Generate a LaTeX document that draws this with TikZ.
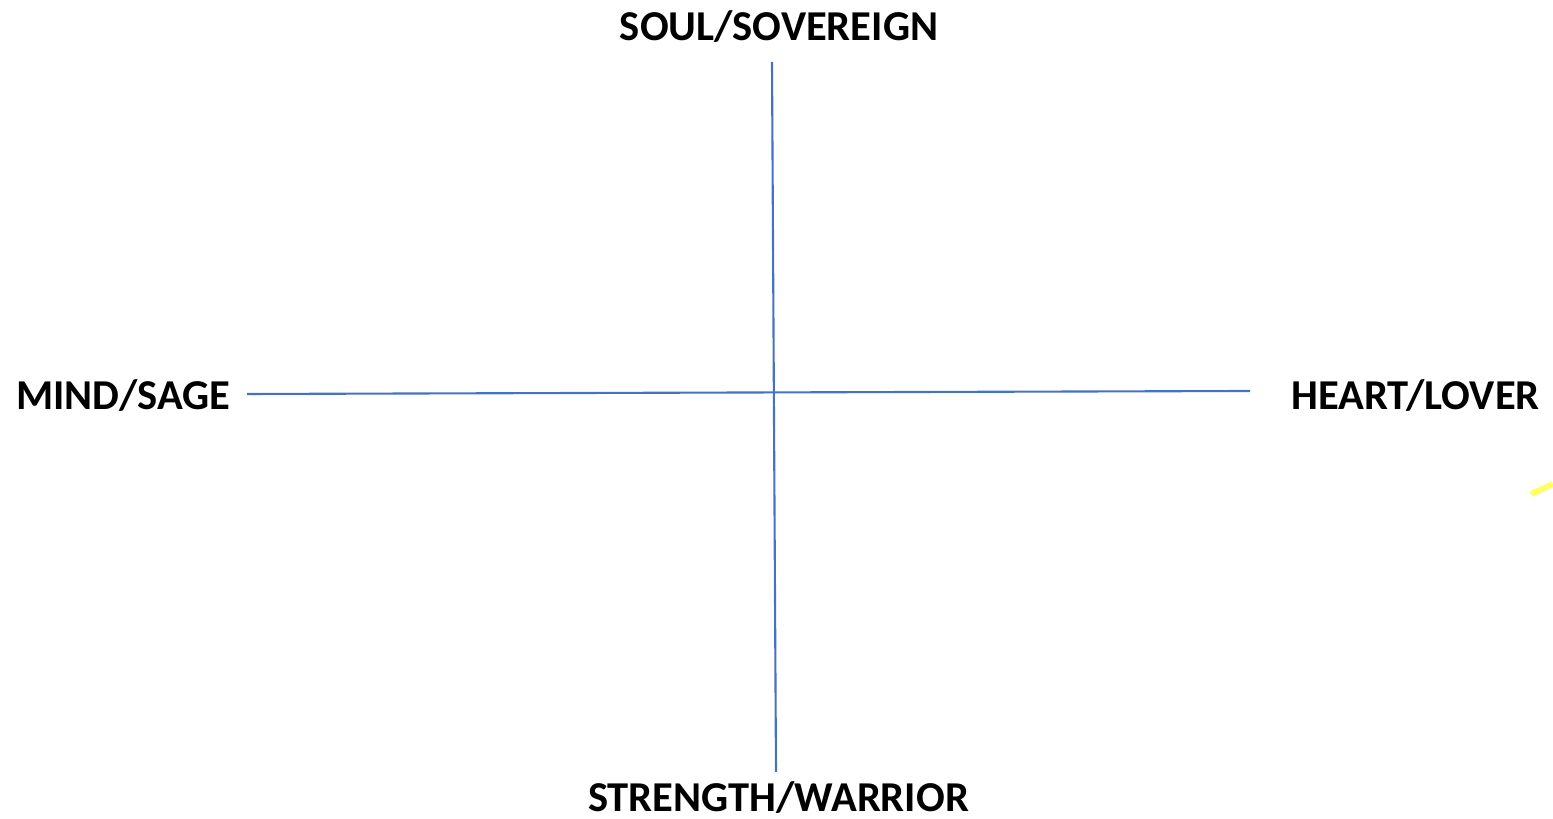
\documentclass[tikz,border=0pt]{standalone}
\usepackage{fontspec}
\setmainfont{Carlito}
\usetikzlibrary{positioning}

\definecolor{axisblue}{RGB}{68,114,196}
\definecolor{markyellow}{RGB}{255,255,102}

\begin{document}
\begin{tikzpicture}[
  x=0.01cm, y=-0.01cm,
  lbl/.style={font=\fontsize{12.1}{14}\selectfont\bfseries,inner sep=0pt,anchor=base},
  axis/.style={draw=axisblue,line width=0.6pt},
]
\useasboundingbox (0,0) rectangle (1553,819);

\node[lbl] (soul)     at (779,41)  {SOUL/SOVEREIGN};
\node[lbl] (mind)     at (123.5,410) {MIND/SAGE};
\node[lbl] (heart)    at (1415.5,410) {HEART/LOVER};
\node[lbl] (strength) at (778.5,812) {STRENGTH/WARRIOR};

\coordinate (vtop) at (772,62);
\coordinate (vbot) at (776,772);
\coordinate (hleft) at (247,394);
\coordinate (hright) at (1250,391);

\draw[axis] (vtop) -- (vbot);
\draw[axis] (hleft) -- (hright);

% stray highlighter mark
\coordinate (ma) at (1531,494);
\coordinate (mb) at (1553,484);
\draw[markyellow,line width=1.7pt] (ma) -- (mb);
\end{tikzpicture}
\end{document}
